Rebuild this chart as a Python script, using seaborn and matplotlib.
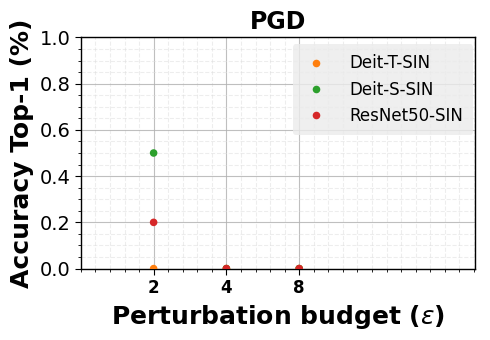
import pandas as pd
import matplotlib.pyplot as plt
import seaborn as sns
from matplotlib.ticker import AutoMinorLocator

sns.set_style("white")
plt.rcParams['text.color'] = 'black'
plt.rcParams['axes.labelcolor'] = 'black'
plt.rcParams['xtick.color'] = 'black'
plt.rcParams['ytick.color'] = 'black'

# data
budgets = ['2', '4', '8']
models = ['Deit-T-SIN', 'Deit-S-SIN', 'ResNet50-SIN']
deit_t = [0.0, 0.0, 0.0]
deit_s = [0.5, 0.0, 0.0]
resnet = [0.2, 0.0, 0.0]
colors = ['#ff7f0e', '#2ca02c', '#d62728']

rows = []
for name, vals in zip(models, [deit_t, deit_s, resnet]):
    for i, v in enumerate(vals):
        rows.append({'pos': i + 1, 'acc': v, 'model': name})
df = pd.DataFrame(rows)

fig, ax = plt.subplots(figsize=(4.9, 3.4), dpi=100)

sns.scatterplot(data=df, x='pos', y='acc', hue='model', palette=colors,
                s=30, edgecolor='none', ax=ax, zorder=3)

ax.set_xlim(0, 5.42)
ax.set_ylim(0, 1.0)
ax.set_xticks([1, 2, 3])
ax.set_xticklabels(budgets, fontweight='bold', fontsize=12)
ax.xaxis.set_minor_locator(AutoMinorLocator(5))
ax.yaxis.set_minor_locator(AutoMinorLocator(4))
ax.tick_params(axis='y', labelsize=14)
ax.tick_params(which='both', direction='out', bottom=True, left=True)
ax.tick_params(which='major', length=4)
ax.tick_params(which='minor', length=2)

ax.grid(which='major', color='#b0b0b0', alpha=0.8, linewidth=0.8)
ax.grid(which='minor', color='#dddddd', linestyle='--', alpha=0.5, linewidth=0.8)

for sp in ax.spines.values():
    sp.set_color('black')
    sp.set_linewidth(1.0)

ax.set_xlabel(r'Perturbation budget ($\varepsilon$)', fontweight='bold', fontsize=18)
ax.set_ylabel('Accuracy Top-1 (%)', fontweight='bold', fontsize=18)
ax.set_title('PGD', fontweight='bold', fontsize=17)

leg = ax.legend(loc='upper right', bbox_to_anchor=(0.995, 0.97), borderaxespad=0,
                fontsize=12, frameon=True, facecolor='#ebebeb',
                edgecolor='none', framealpha=0.8, handlelength=1.6,
                handletextpad=1.2, borderpad=0.6)

fig.subplots_adjust(left=0.165, right=0.97, top=0.89, bottom=0.21)
plt.savefig('out.png', dpi=100)
